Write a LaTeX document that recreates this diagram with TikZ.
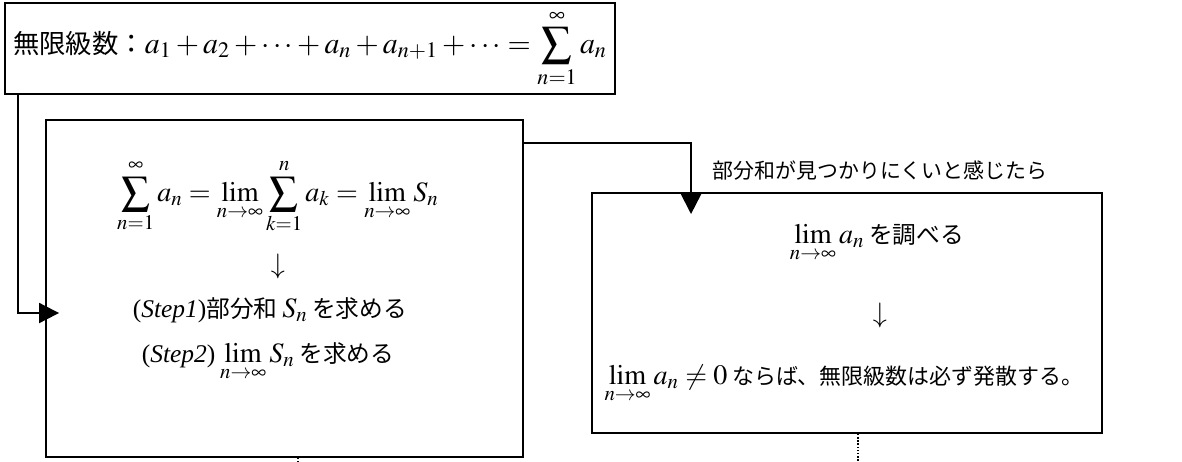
\documentclass[tikz,border=0pt]{standalone}
\usepackage{mathptmx}
\usepackage{fontspec}
\setmainfont{Liberation Serif}
\newfontfamily\cjk{Noto Sans CJK JP}
\usetikzlibrary{arrows.meta, positioning}

\newcommand{\jp}[2][13.5]{{\cjk\fontsize{#1}{#1}\selectfont #2}}
\newcommand{\sm}[1]{{\fontsize{14.5}{17}\selectfont #1}}

\begin{document}
\begin{tikzpicture}[x=0.02cm, y=-0.02cm,
    frame/.style={draw, line width=1.1pt, inner sep=0pt},
    flow/.style={-{Triangle[length=0.4cm, width=0.4cm]}, line width=1.1pt},
    txt/.style={inner sep=0pt, font=\fontsize{16}{20}\selectfont}]
  \useasboundingbox (0,0) rectangle (1182,461);
  % Boxes
  \node[frame, txt, font=\fontsize{17}{20}\selectfont,
        minimum width=12.2cm, minimum height=1.82cm] (ser) at (310,48.5)
        {\jp[15]{無限級数：}$\displaystyle a_1+a_2+\cdots+a_n+a_{n+1}+\cdots=\sum_{n=1}^{\infty}a_n$};
  \node[frame, minimum width=9.54cm, minimum height=6.74cm] (part) at (284.5,288.5) {};
  \node[frame, minimum width=10.2cm, minimum height=4.8cm] (test) at (847,313) {};
  % Partial sums
  \node[txt, anchor=base] (eq) at (278,201)
        {$\displaystyle\sum_{n=1}^{\infty}a_n=\lim_{n\to\infty}\sum_{k=1}^{n}a_k=\lim_{n\to\infty}S_n$};
  \node[txt] (down1) at (278,266) {$\downarrow$};
  \node[txt, anchor=base] (step1) at (270,317)
        {\sm{(\textit{Step1})}\jp{部分和}\,$S_n$\,\jp{を求める}};
  \node[txt, anchor=base] (step2) at (268,362)
        {\sm{(\textit{Step2})}\,$\displaystyle\lim_{n\to\infty}S_n$\,\jp{を求める}};
  % Term test
  \node[txt, anchor=base] (lima) at (877,243)
        {$\displaystyle\lim_{n\to\infty}a_n$\,\jp{を調べる}};
  \node[txt] (down2) at (880,315) {$\downarrow$};
  \node[txt, anchor=base] (concl) at (844,384)
        {$\displaystyle\lim_{n\to\infty}a_n\neq 0$\,\jp[12.5]{ならば、無限級数は必ず発散する。}};
  \node[inner sep=0pt] (note) at (880,171) {\jp[11.9]{部分和が見つかりにくいと感じたら}};
  % Connectors
  \draw[flow, shorten >=-0.28cm] ([xshift=0.28cm]ser.south west) |- ([yshift=-0.49cm]part.west);
  \draw[flow, shorten >=-0.44cm] ([yshift=-0.48cm]part.north east) -| ([xshift=-3.12cm]test.north);
  \draw[densely dotted, line width=0.8pt] ([xshift=0.27cm]part.south) -- ++(0,4) coordinate (more1);
  \draw[densely dotted, line width=0.8pt] ([xshift=0.22cm]test.south) -- ++(0,28) coordinate (more2);
\end{tikzpicture}
\end{document}
